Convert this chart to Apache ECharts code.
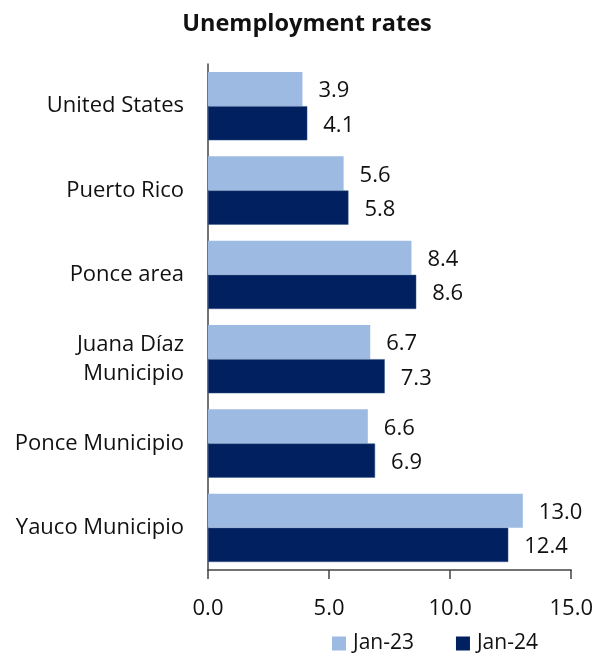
<!DOCTYPE html>
<html><head><meta charset="utf-8">
<script src="https://cdn.jsdelivr.net/npm/echarts@6/dist/echarts.min.js"></script>
<style>html,body{margin:0;padding:0;background:#fff}#c{width:596px;height:656px}</style>
</head><body><div id="c"></div>
<script>
const categories = ["United States", "Puerto Rico", "Ponce area", "Juana Díaz\nMunicipio", "Ponce Municipio", "Yauco Municipio"];
const jan23 = [3.9, 5.6, 8.4, 6.7, 6.6, 13.0];
const jan24 = [4.1, 5.8, 8.6, 7.3, 6.9, 12.4];
const seriesNames = ["Jan-23", "Jan-24"];
const xTicks = [0, 5, 10, 15];

const FONT = "'Open Sans', 'Noto Sans', sans-serif";
const chart = echarts.init(document.getElementById('c'));
const lbl = {show: true, position: 'right', distance: 16, offset: [0, 2], fontFamily: FONT, fontSize: 22, color: '#111', formatter: p => p.value.toFixed(1)};
chart.setOption({
  animation: false,
  title: {text: 'Unemployment rates', left: 302, top: 7, textAlign: 'center',
    textStyle: {fontFamily: FONT, fontSize: 23.5, fontWeight: 'bold', color: '#111'}},
  legend: {top: 633, left: 332, padding: 0, itemWidth: 14, itemHeight: 14, itemGap: 42, icon: 'rect',
    itemStyle: {borderWidth: 0},
    textStyle: {fontFamily: FONT, fontSize: 21, color: '#111', padding: [0, 0, 0, 2]}},
  grid: {left: 208, right: 24, top: 64, bottom: 86, containLabel: false},
  xAxis: {type: 'value', min: xTicks[0], max: xTicks[xTicks.length-1], interval: 5,
    splitLine: {show: false},
    axisLine: {show: true, lineStyle: {color: '#444', width: 1.5}},
    axisTick: {show: true, length: 9, lineStyle: {color: '#444', width: 1.5}},
    axisLabel: {fontFamily: FONT, fontSize: 22, color: '#111', margin: 28, formatter: v => v.toFixed(1)}},
  yAxis: {type: 'category', data: categories, inverse: true,
    axisLine: {show: true, lineStyle: {color: '#444', width: 1.5}},
    axisTick: {show: false},
    axisLabel: {fontFamily: FONT, fontSize: 22, color: '#111', margin: 24, align: 'right', lineHeight: 29, padding: [4, 0, 0, 0]}},
  series: [
    {name: seriesNames[0], type: 'bar', data: jan23, barGap: '0%', barCategoryGap: '19%',
     itemStyle: {color: '#9DBAE3'}, label: lbl},
    {name: seriesNames[1], type: 'bar', data: jan24, barGap: '0%', barCategoryGap: '19%',
     itemStyle: {color: '#00205F', borderColor: '#3A5A8C', borderWidth: 0.5}, label: lbl}
  ]
});
</script></body></html>
